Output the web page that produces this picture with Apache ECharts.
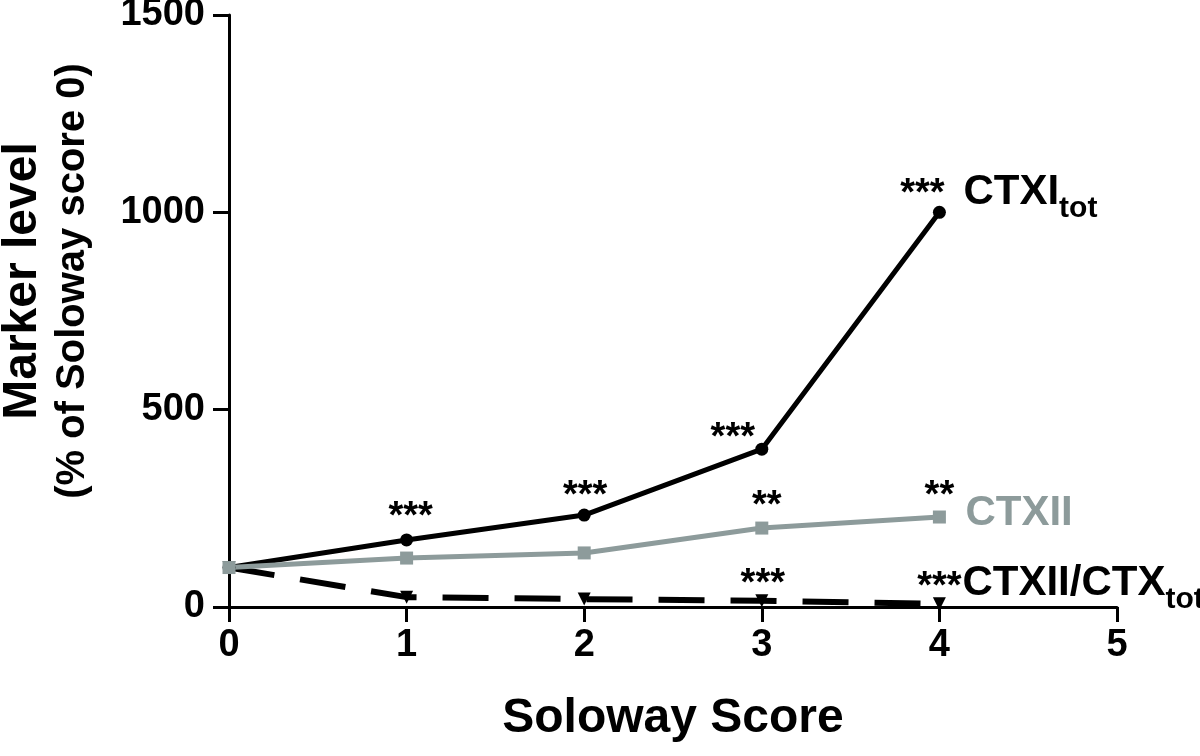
<!DOCTYPE html>
<html lang="en">

<head>
    <meta charset="UTF-8">
    <script src="https://cdn.jsdelivr.net/npm/echarts@6/dist/echarts.min.js"></script>
    <title>Soloway Score</title>
    <style>
        html, body { margin: 0; padding: 0; background: #fff; }
        #main { width: 1200px; height: 756px; }
    </style>
</head>

<body>
    <div id="main"></div>

    <script>
        // 数据
        var scores = [0, 1, 2, 3, 4];
        var ctxiTot = [100, 170, 233, 400, 1000];
        var ctxii = [100, 124, 137, 200, 228];
        var ratio = [100, 25, 20, 16, 8];
        var ctxiStars = ['', '***', '***', '***', '***'];
        var ctxiiStars = ['', '', '', '**', '**'];
        var ratioStars = ['', '', '', '***', '***'];

        var FONT = 'Liberation Sans, Arial, sans-serif';
        var GREY = '#8d9b9b';

        // 星号的位置偏移
        var ctxiOff = [null, [4, -22], [1, -19], [-29, -11], [-17, -18]];
        var ctxiiOff = [null, null, null, [5, -22], [0, -21]];
        var ratioOff = [null, null, null, [1, -16], [0, -16]];

        function build(vals, stars, off) {
            return vals.map(function (v, i) {
                var item = { value: [scores[i], v] };
                if (stars[i]) {
                    item.label = {
                        show: true,
                        position: 'inside',
                        formatter: stars[i],
                        offset: off[i],
                        color: '#000',
                        fontSize: 38,
                        fontWeight: 'bold',
                        fontFamily: FONT
                    };
                }
                return item;
            });
        }

        // 下标: 主文字顶对齐, tot 底对齐
        var subRich = {
            m: { fontSize: 42, fontWeight: 'bold', fontFamily: FONT, color: '#000', lineHeight: 40, verticalAlign: 'top' },
            s: { fontSize: 30, fontWeight: 'bold', fontFamily: FONT, color: '#000', lineHeight: 52, verticalAlign: 'bottom' }
        };

        var myChart = echarts.init(document.getElementById('main'));
        var option = {
            animation: false,
            grid: { left: 229, right: 83, top: 15, bottom: 149, outerBoundsMode: 'none', containLabel: false },
            xAxis: {
                type: 'value',
                min: 0,
                max: 5,
                interval: 1,
                name: 'Soloway Score',
                nameLocation: 'middle',
                nameGap: 88,
                nameTextStyle: { fontSize: 48, fontWeight: 'bold', fontFamily: FONT, color: '#000' },
                axisLine: { onZero: false, lineStyle: { color: '#000', width: 3 } },
                axisTick: { length: 15, lineStyle: { color: '#000', width: 3 } },
                axisLabel: { fontSize: 38, fontWeight: 'bold', fontFamily: FONT, color: '#000', margin: 20 },
                splitLine: { show: false }
            },
            yAxis: {
                type: 'value',
                min: 0,
                max: 1500,
                interval: 500,
                name: '{a|Marker level}\n{b|(% of Soloway score 0)}',
                nameLocation: 'middle',
                nameRotate: 90,
                nameGap: 134,
                nameTextStyle: {
                    padding: [0, 0, 0, 60],
                    rich: {
                        a: { fontSize: 48, fontWeight: 'bold', fontFamily: FONT, color: '#000', lineHeight: 56 },
                        b: { fontSize: 40, fontWeight: 'bold', fontFamily: FONT, color: '#000', lineHeight: 44 }
                    }
                },
                axisLine: { show: true, lineStyle: { color: '#000', width: 3 } },
                axisTick: { show: true, length: 16, lineStyle: { color: '#000', width: 3 } },
                axisLabel: {
                    fontSize: 38, fontWeight: 'bold', fontFamily: FONT, color: '#000', margin: 24,
                    formatter: function (v) { return String(v); }
                },
                splitLine: { show: false }
            },
            series: [{
                    name: 'CTXII/CTXtot',
                    type: 'line',
                    data: build(ratio, ratioStars, ratioOff),
                    symbol: 'triangle',
                    symbolRotate: 180,
                    symbolSize: 13,
                    showAllSymbol: true,
                    itemStyle: { color: '#000' },
                    lineStyle: { color: '#000', width: 6, type: [46, 26] },
                    endLabel: {
                        show: true,
                        formatter: '{m|CTXII/CTX}{s|tot}',
                        distance: 23,
                        offset: [0, -15],
                        rich: subRich
                    }
                },
                {
                    name: 'CTXItot',
                    type: 'line',
                    data: build(ctxiTot, ctxiStars, ctxiOff),
                    symbol: 'circle',
                    symbolSize: 13,
                    itemStyle: { color: '#000' },
                    lineStyle: { color: '#000', width: 5 },
                    endLabel: {
                        show: true,
                        formatter: '{m|CTXI}{s|tot}',
                        distance: 24,
                        offset: [0, -15],
                        rich: subRich
                    }
                },
                {
                    name: 'CTXII',
                    type: 'line',
                    data: build(ctxii, ctxiiStars, ctxiiOff),
                    symbol: 'rect',
                    symbolSize: 13,
                    itemStyle: { color: GREY },
                    lineStyle: { color: GREY, width: 5 },
                    endLabel: {
                        show: true,
                        formatter: 'CTXII',
                        distance: 26,
                        offset: [0, -4],
                        color: GREY,
                        fontSize: 42,
                        fontWeight: 'bold',
                        fontFamily: FONT
                    }
                }
            ]
        };

        myChart.setOption(option);
    </script>
</body>

</html>
